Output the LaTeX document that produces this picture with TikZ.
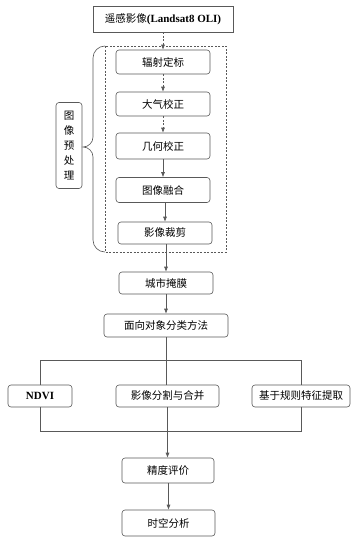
\documentclass[tikz,border=0pt]{standalone}
\usepackage{fontspec}
\setmainfont{Liberation Serif}
\newfontfamily\cjk{Noto Sans CJK SC}
\usetikzlibrary{arrows.meta}
\begin{document}
\begin{tikzpicture}[x=1pt,y=-1pt,
  line/.style={draw=black!65, line width=0.6pt},
  arr/.style={line, -{Latex[length=5pt,width=4pt]}},
  darr/.style={arr, dash pattern=on 2pt off 1.5pt},
  box/.style={line, rounded corners=3pt, inner sep=0pt, font=\cjk\fontsize{10.5}{12}\selectfont, text=black},
]
\useasboundingbox (0,0) rectangle (355,541);
\fill[white] (0,0) rectangle (355,541);

\node[box, rounded corners=0pt, minimum width=140pt, minimum height=26pt] (top) at (163,19)
  {遥感影像{\rmfamily\bfseries\fontsize{11}{12}\selectfont (Landsat8 OLI)}};

\draw[line, dash pattern=on 2pt off 1.5pt] (105,46) rectangle (226,252);

\node[box, minimum width=94pt, minimum height=24pt] (n1) at (163,62) {辐射定标};
\node[box, minimum width=94pt, minimum height=24pt] (n2) at (163,104) {大气校正};
\node[box, minimum width=94pt, minimum height=26pt] (n3) at (163,146) {几何校正};
\node[box, minimum width=94pt, minimum height=25pt] (n4) at (163,190) {图像融合};
\node[box, minimum width=94pt, minimum height=22pt] (n5) at (165,233) {影像裁剪};

\node[box, minimum width=26pt, minimum height=86pt, align=center, font=\cjk\fontsize{10.5}{15}\selectfont] (pre) at (69,145.5) {图\\像\\预\\处\\理};

\draw[line] (105,46) to[out=180,in=90] (93,58) -- (93,137) to[out=-90,in=0] (83,147)
  to[out=0,in=90] (93,157) -- (93,240) to[out=-90,in=180] (105,252);

\node[box, minimum width=94pt, minimum height=22pt] (mask) at (166,283) {城市掩膜};
\node[box, minimum width=124pt, minimum height=23pt] (obj) at (166,325.5) {面向对象分类方法};

\node[box, minimum width=64pt, minimum height=22pt] (ndvi) at (40,396) {{\rmfamily\bfseries\fontsize{11}{12}\selectfont NDVI}};
\node[box, minimum width=103pt, minimum height=22pt] (seg) at (167.5,396) {影像分割与合并};
\node[box, minimum width=98pt, minimum height=22pt] (rule) at (301,396) {基于规则特征提取};

\node[box, minimum width=92pt, minimum height=25pt] (acc) at (168,470.5) {精度评价};
\node[box, minimum width=93pt, minimum height=26pt] (st) at (168.5,523) {时空分析};

\draw[darr] (top.south -| n1) -- (n1);
\draw[darr] (n1) -- (n2);
\draw[darr] (n2) -- (n3);
\draw[arr] (n3) -- (n4);
\draw[arr] (n4.south -| n5) -- (n5);
\draw[arr] (n5.south -| mask) -- (mask);
\draw[arr] (mask) -- (obj);

\coordinate (bl) at (40,360);
\coordinate (br) at (301,360);
\draw[line] (obj.south) -- (obj.south |- seg.north);
\draw[line] (ndvi.north) -- (bl) -- (br) -- (rule.north);

\coordinate (ml) at (40,431);
\coordinate (mr) at (301,431);
\draw[line] (ndvi.south) -- (ml) -- (mr) -- (rule.south);
\draw[arr] (seg.south) -- (seg.south |- acc.north);
\draw[arr] (acc.south -| st) -- (st);
\end{tikzpicture}
\end{document}
